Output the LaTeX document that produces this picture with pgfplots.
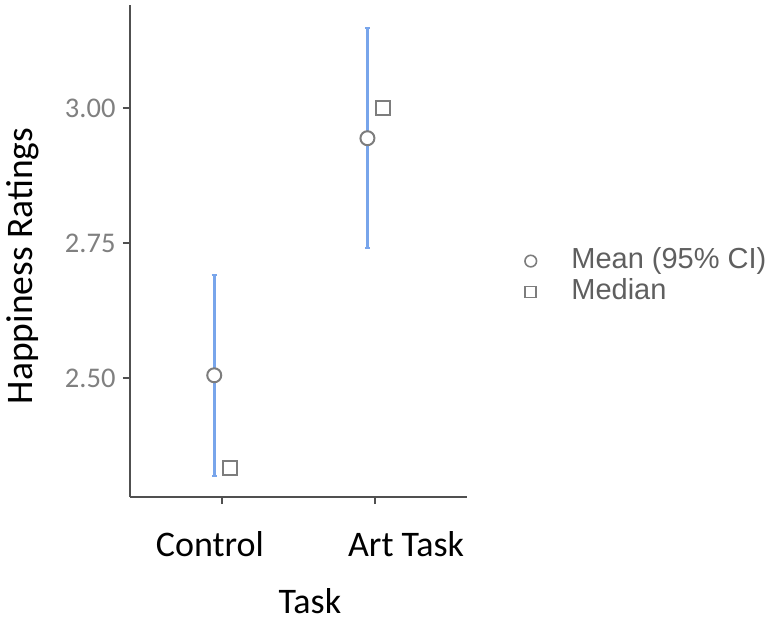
\documentclass[border=0pt]{standalone}
\usepackage{pgfplots}
\pgfplotsset{compat=1.18}
\usepackage{fontspec}
\setmainfont{Carlito}
\newfontfamily\legfont{Liberation Sans}
\definecolor{axgray}{RGB}{80,80,80}
\definecolor{mkgray}{RGB}{125,125,125}
\definecolor{tkgray}{RGB}{128,128,128}
\definecolor{legtxt}{RGB}{95,95,95}
\definecolor{ciblue}{RGB}{120,165,235}
\begin{document}
\begin{tikzpicture}
\useasboundingbox (0bp,0bp) rectangle (781bp,622bp);
\begin{axis}[
  at={(130bp,125bp)}, anchor=south west,
  scale only axis, width=337bp, height=492bp,
  xmin=-0.6, xmax=1.6,
  ymin=2.2796, ymax=3.1907,
  axis x line*=bottom, axis y line*=left,
  axis line style={axgray, line width=2.2bp, -},
  xtick={0,1},
  xticklabels={Control\hspace*{24bp}, \hspace*{62bp}Art Task},
  ytick={2.5,2.75,3.0},
  yticklabels={2.50,2.75,3.00},
  tick align=outside,
  major tick length=7bp,
  tick style={axgray, line width=2bp},
  xticklabel style={font=\fontsize{36bp}{40bp}\selectfont, black, anchor=base, yshift=-52bp},
  yticklabel style={font=\fontsize{28.5bp}{32bp}\selectfont, tkgray, anchor=east, xshift=-4bp},
  xlabel={Task},
  xlabel style={font=\fontsize{36bp}{40bp}\selectfont, black, at={(axis description cs:0.534,-0.2378)}, anchor=base},
  ylabel={Happiness Ratings},
  ylabel style={font=\fontsize{37.5bp}{40bp}\selectfont, black, at={(axis description cs:-0.318,0.4695)}, anchor=center},
  clip=false,
  legend style={at={(axis description cs:1.169,0.448)}, anchor=west, draw=none, fill=none,
    font=\legfont\fontsize{29bp}{33bp}\selectfont, text=legtxt, inner sep=0pt, row sep=2bp,
    nodes={inner sep=0pt, text height=22bp, text depth=7bp}},
  legend cell align=left,
]
% error bars (95% CI)
\addplot[ciblue, line width=2.8bp, forget plot, mark=none,
  error bars/.cd, y dir=both, y explicit,
  error bar style={ciblue, line width=2.8bp},
  error mark options={ciblue, rotate=90, mark size=2.5bp, line width=2bp}]
  coordinates {(-0.05,2.505) +- (0,0.186)};
\addplot[ciblue, line width=2.8bp, forget plot, mark=none,
  error bars/.cd, y dir=both, y explicit,
  error bar style={ciblue, line width=2.8bp},
  error mark options={ciblue, rotate=90, mark size=2.5bp, line width=2bp}]
  coordinates {(0.95,2.944) +- (0,0.204)};
% means
\addplot[only marks, mark=*, mark size=7bp, mkgray, line width=2bp, fill=white,
  mark options={fill=white, draw=mkgray},
  legend image code/.code={\draw[draw=mkgray, fill=white, line width=1.6bp] (14bp,0bp) circle (5.8bp);}]
  coordinates {(-0.05,2.505) (0.95,2.944)};
\addlegendentry{\hspace*{34bp}Mean (95\% CI)}
% medians
\addplot[only marks, mark=square*, mark size=7bp, mkgray, line width=2bp,
  mark options={fill=white, draw=mkgray},
  legend image code/.code={\draw[draw=mkgray, fill=white, line width=1.6bp] (8.5bp,-5.5bp) rectangle (19.5bp,5.5bp);}]
  coordinates {(0.05,2.333) (1.05,3.00)};
\addlegendentry{\hspace*{34bp}Median}
\end{axis}
\end{tikzpicture}
\end{document}
